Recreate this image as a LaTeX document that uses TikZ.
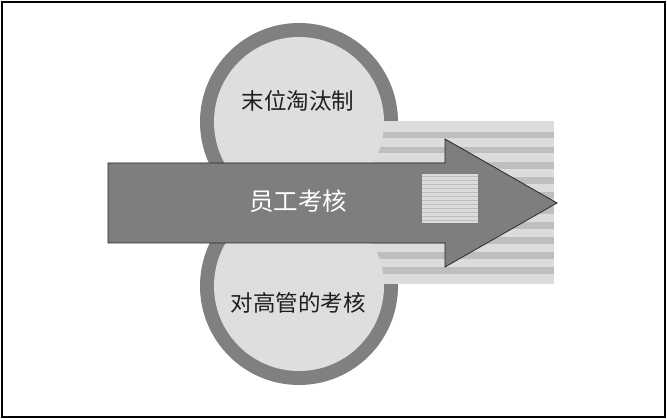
\documentclass[tikz,border=0pt]{standalone}
\usepackage{fontspec}
\newfontfamily\cjk{Noto Sans CJK SC}
\definecolor{ringgray}{HTML}{808080}
\definecolor{innergray}{HTML}{DEDEDE}
\definecolor{stripelight}{HTML}{DCDCDC}
\definecolor{stripedark}{HTML}{BEBEBE}
\definecolor{arrowgray}{HTML}{7E7E7E}
\definecolor{textdark}{HTML}{1E1E1E}
\tikzset{
  ring/.style={fill=ringgray},
  inner/.style={fill=innergray},
  label/.style={font=\cjk\fontsize{22.5}{26}\selectfont, text=textdark, inner sep=0pt},
  arrowlabel/.style={font=\cjk\fontsize{24.5}{28}\selectfont, text=white, inner sep=0pt},
}
\begin{document}
\begin{tikzpicture}[x=1pt,y=-1pt]
\useasboundingbox (0,0) rectangle (667,419);
\fill[white] (0,0) rectangle (667,419);
% outer rings
\fill[ring] (299,122) circle (99);
\fill[ring] (299,286) circle (99);
% striped band
\fill[stripelight] (370,121) rectangle (554,284);
\foreach \k in {0,...,9}
  \fill[stripedark] (370,{131.7+15.06*\k}) rectangle (554,{138.4+15.06*\k});
% inner discs
\fill[inner] (299,122) circle (85);
\fill[inner] (299,286) circle (85);
% arrow
\draw[fill=arrowgray, draw=black!85, line width=0.8pt, line join=miter]
  (108,163) -- (445,163) -- (445,139) -- (557,203) -- (445,267) -- (445,243) -- (108,243) -- cycle;
% small striped square
\fill[stripelight] (422,174) rectangle (478,223);
\foreach \k in {0,...,11}
  \draw[stripedark, line width=1.4pt] (422,{176.5+4*\k}) -- (478,{176.5+4*\k});
% texts
\node[label] (top) at (298,101) {末位淘汰制};
\node[label] (bottom) at (298,303) {对高管的考核};
\node[arrowlabel] (mid) at (298,201.5) {员工考核};
% frame
\draw[black, line width=2.6pt] (2,2) rectangle (665,417);
\end{tikzpicture}
\end{document}
